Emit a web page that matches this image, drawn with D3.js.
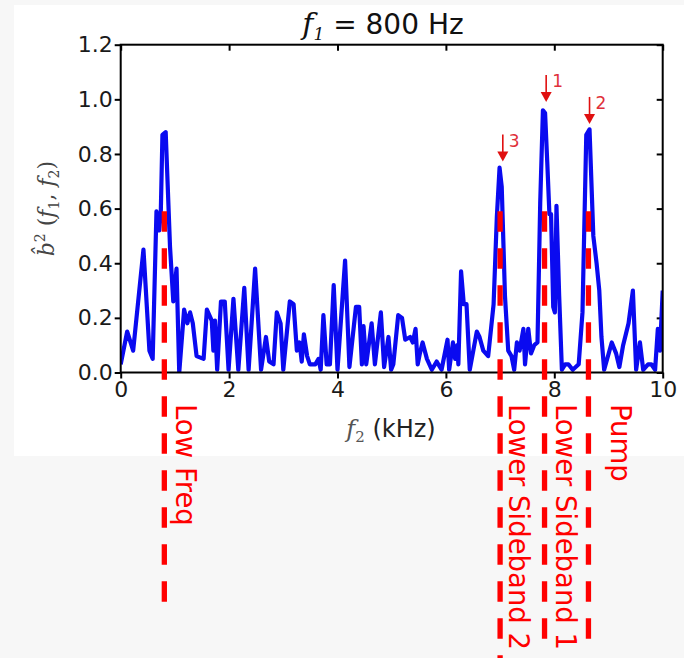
<!DOCTYPE html>
<html>
<head>
<meta charset="utf-8">
<script src="https://cdn.jsdelivr.net/npm/d3@7/dist/d3.min.js"></script>
<style>
  html, body { margin: 0; padding: 0; background: #f7f7f7; }
  svg { display: block; }
</style>
</head>
<body>
<svg id="chart" width="684" height="658"></svg>
<script>
// ---------------- DATA ----------------
const freqKHz = [0.00,0.12,0.23,0.42,0.53,0.59,0.66,0.71,0.74,0.77,0.83,0.91,0.97,1.03,1.08,1.17,1.23,1.28,1.33,1.40,
  1.53,1.59,1.68,1.71,1.74,1.78,1.85,1.92,1.99,2.08,2.17,2.28,2.36,2.48,2.59,2.68,2.74,2.82,2.88,2.95,
  3.00,3.12,3.19,3.25,3.30,3.34,3.38,3.44,3.49,3.59,3.65,3.69,3.74,3.80,3.86,3.93,4.00,4.14,4.22,4.34,
  4.40,4.45,4.48,4.53,4.63,4.69,4.80,4.86,4.94,4.99,5.03,5.12,5.19,5.25,5.34,5.39,5.44,5.48,5.52,5.57,
  5.65,5.74,5.83,5.92,6.03,6.06,6.13,6.17,6.21,6.23,6.28,6.33,6.38,6.44,6.57,6.62,6.69,6.78,6.88,6.94,
  6.99,7.03,7.09,7.15,7.21,7.26,7.31,7.36,7.43,7.46,7.52,7.57,7.63,7.69,7.74,7.79,7.83,7.87,7.91,7.94,
  7.98,8.01,8.04,8.09,8.14,8.20,8.26,8.34,8.45,8.52,8.59,8.65,8.72,8.78,8.83,8.87,8.92,9.06,9.14,9.20,
  9.27,9.37,9.45,9.51,9.58,9.64,9.73,9.79,9.86,9.91,9.95,10.0];
const bicoherence = [0.03,0.15,0.08,0.45,0.08,0.05,0.59,0.52,0.59,0.87,0.88,0.46,0.26,0.38,0.00,0.23,0.18,0.22,0.18,0.06,
  0.05,0.23,0.19,0.08,0.19,0.01,0.26,0.26,0.01,0.27,0.01,0.31,0.01,0.38,0.01,0.13,0.04,0.03,0.22,0.18,
  0.01,0.26,0.25,0.08,0.11,0.04,0.14,0.06,0.03,0.03,0.05,0.01,0.21,0.03,0.03,0.32,0.01,0.41,0.02,0.24,
  0.24,0.03,0.17,0.03,0.18,0.03,0.22,0.02,0.13,0.01,0.03,0.21,0.20,0.12,0.13,0.11,0.16,0.03,0.07,0.11,
  0.05,0.01,0.04,0.01,0.12,0.01,0.11,0.05,0.10,0.03,0.37,0.25,0.25,0.01,0.15,0.13,0.08,0.06,0.25,0.57,
  0.75,0.68,0.28,0.08,0.06,0.01,0.11,0.08,0.16,0.03,0.16,0.07,0.10,0.11,0.62,0.96,0.95,0.77,0.58,0.58,
  0.24,0.22,0.61,0.28,0.01,0.03,0.03,0.01,0.03,0.22,0.87,0.89,0.50,0.40,0.30,0.13,0.01,0.11,0.07,0.02,
  0.10,0.18,0.30,0.01,0.11,0.01,0.03,0.03,0.01,0.16,0.08,0.30];

const xTicks = [0, 2, 4, 6, 8, 10];
const yTicks = [0.0, 0.2, 0.4, 0.6, 0.8, 1.0, 1.2];

// marker lines: frequency of line, frequency where its label sits
const markerNames = ["Low Freq", "Lower Sideband 2", "Lower Sideband 1", "Pump"];
const markerFreq  = [0.805, 7.0, 7.82, 8.63];
const markerLabelFreq = [1.02, 7.16, 8.03, 9.05];
const markerTopValue = 0.59;

// peak arrows: numbers, frequency, value of arrow tip
const arrowNums = ["1", "2", "3"];
const arrowFreq = [7.85, 8.65, 7.05];
const arrowTip  = [0.99, 0.91, 0.772];

// ---------------- DRAW ----------------
(function () {
const svg = d3.select("#chart");
const W = 684, H = 658;

svg.append("rect").attr("x", 0).attr("y", 0).attr("width", W).attr("height", H).attr("fill", "#f7f7f7");
svg.append("rect").attr("x", 14).attr("y", 5).attr("width", 670).attr("height", 451).attr("fill", "#ffffff");

const pL = 120.7, pR = 662.7, pT = 44.7, pB = 372.5;
const x = d3.scaleLinear().domain([0, 10]).range([pL, pR]);
const y = d3.scaleLinear().domain([0, 1.2]).range([pB, pT]);

const tickFont = "'DejaVu Sans', sans-serif";

// axes
const axL = d3.axisLeft(y).tickValues(yTicks).tickFormat(d3.format(".1f")).tickSizeInner(6).tickSizeOuter(0).tickPadding(2);
const axR = d3.axisRight(y).tickValues(yTicks).tickFormat("").tickSizeInner(-6).tickSizeOuter(0);
const axT = d3.axisTop(x).tickValues(xTicks).tickFormat("").tickSizeInner(-6).tickSizeOuter(0);
const axB = d3.axisBottom(x).tickValues(xTicks).tickFormat(d3.format("d")).tickSizeInner(6).tickSizeOuter(0).tickPadding(3);

function styleAxis(g) {
  g.select(".domain").remove();
  g.selectAll(".tick line").attr("stroke", "#000").attr("stroke-width", 2);
  g.selectAll(".tick text").attr("fill", "#1a1a1a").style("font-family", tickFont).style("font-size", "22px");
}
svg.append("g").attr("transform", `translate(${pL},0)`).call(axL).call(styleAxis);
svg.append("g").attr("transform", `translate(${pR},0)`).call(axR).call(styleAxis);
svg.append("g").attr("transform", `translate(0,${pT})`).call(axT).call(styleAxis);
svg.append("g").attr("transform", `translate(0,${pB})`).call(axB).call(styleAxis);

// clip
svg.append("clipPath").attr("id", "plotclip")
  .append("rect").attr("x", pL).attr("y", pT).attr("width", pR - pL).attr("height", pB - pT);

const pts = freqKHz.map((f, i) => [f, bicoherence[i]]);
const line = d3.line().x(d => x(d[0])).y(d => y(d[1]));
svg.append("path")
  .attr("d", line(pts))
  .attr("clip-path", "url(#plotclip)")
  .attr("fill", "none")
  .attr("stroke", "#0a0af0")
  .attr("stroke-width", 4.2)
  .attr("stroke-linejoin", "round");

// frame
svg.append("rect").attr("x", pL).attr("y", pT).attr("width", pR - pL).attr("height", pB - pT)
  .attr("fill", "none").attr("stroke", "#000").attr("stroke-width", 2);

// title
const title = svg.append("text").attr("x", 383).attr("y", 34).attr("text-anchor", "middle")
  .attr("fill", "#111").style("font-family", tickFont).style("font-size", "28px");
title.append("tspan").style("font-family", "'DejaVu Serif', serif").style("font-style", "italic").style("font-size", "30px").text("f");
title.append("tspan").attr("dy", 6).style("font-family", "'DejaVu Serif', serif").style("font-style", "italic").style("font-size", "17px").text("1");
title.append("tspan").attr("dy", -6).text(" = 800 Hz");

// x label
const xl = svg.append("text").attr("x", 391).attr("y", 437).attr("text-anchor", "middle")
  .attr("fill", "#222").style("font-family", tickFont).style("font-size", "24px");
xl.append("tspan").style("font-family", "'DejaVu Serif', serif").style("font-style", "italic").attr("fill", "#555").text("f");
xl.append("tspan").attr("dy", 5).style("font-family", "'DejaVu Serif', serif").style("font-size", "15px").attr("fill", "#555").text("2");
xl.append("tspan").attr("dy", -5).text("  (kHz)");

// y label
const yl = svg.append("text").attr("transform", `translate(54,${(pT + pB) / 2}) rotate(-90)`)
  .attr("text-anchor", "middle").attr("fill", "#444")
  .style("font-family", "'DejaVu Serif', serif").style("font-size", "22px");
yl.append("tspan").style("font-style", "italic").text("b\u0302");
yl.append("tspan").attr("dy", -9).style("font-size", "14px").text("2");
yl.append("tspan").attr("dy", 9).text(" (");
yl.append("tspan").style("font-style", "italic").text("f");
yl.append("tspan").attr("dy", 5).style("font-size", "14px").text("1");
yl.append("tspan").attr("dy", -5).text(", ");
yl.append("tspan").style("font-style", "italic").text("f");
yl.append("tspan").attr("dy", 5).style("font-size", "14px").text("2");
yl.append("tspan").attr("dy", -5).text(")");

// marker dashed lines
const markerBottom = [606, 658, 644, 640];
markerFreq.forEach((f, i) => {
  svg.append("line")
    .attr("x1", x(f)).attr("x2", x(f))
    .attr("y1", y(markerTopValue)).attr("y2", markerBottom[i])
    .attr("stroke", "#ff0000").attr("stroke-width", 5.3)
    .attr("stroke-dasharray", "20.5,16.5");
});
// marker labels
markerNames.forEach((name, i) => {
  svg.append("text")
    .attr("transform", `translate(${x(markerLabelFreq[i])},404) rotate(90)`)
    .attr("fill", "#ff0000")
    .style("font-family", tickFont).style("font-size", "27.5px")
    .text(name);
});

// arrows
arrowNums.forEach((n, i) => {
  const ax = x(arrowFreq[i]), ty = y(arrowTip[i]);
  svg.append("line").attr("x1", ax).attr("x2", ax).attr("y1", ty - 27).attr("y2", ty - 8)
    .attr("stroke", "#e01010").attr("stroke-width", 1.6);
  svg.append("path").attr("d", `M${ax - 5.5},${ty - 10} L${ax + 5.5},${ty - 10} L${ax},${ty} Z`)
    .attr("fill", "#e01010");
  svg.append("text").attr("x", ax + 6).attr("y", ty - 15)
    .attr("fill", "#e0303a").style("font-family", tickFont).style("font-size", "17px").text(n);
});
})();
</script>
</body>
</html>
